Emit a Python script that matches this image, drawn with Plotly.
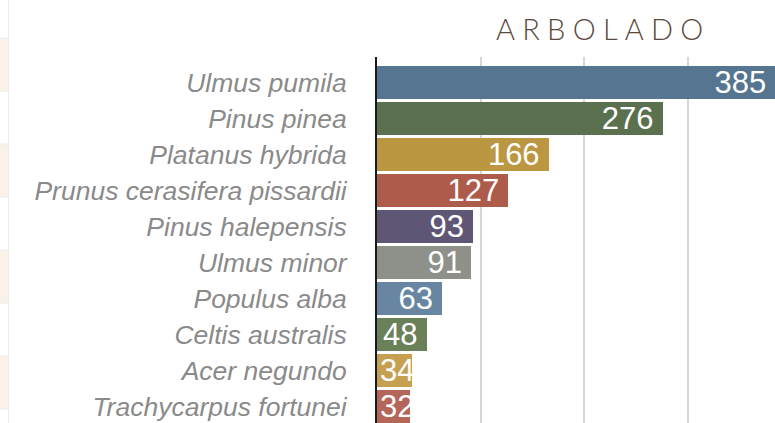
import plotly.graph_objects as go

species = ["Ulmus pumila", "Pinus pinea", "Platanus hybrida", "Prunus cerasifera pissardii",
           "Pinus halepensis", "Ulmus minor", "Populus alba", "Celtis australis",
           "Acer negundo", "Trachycarpus fortunei"]
counts = [385, 276, 166, 127, 93, 91, 63, 48, 34, 32]
colors = ["#557590", "#5b704e", "#bb9742", "#ad5b4a", "#5f5574",
          "#8d918a", "#6886a2", "#6a8059", "#c5a051", "#b5665a"]
title_text = "ARBOLADO"

W, H = 775, 423
L, T = 377, 57
plot_w = W - L
plot_h = H - T
X_MAX = 384.5
px_per_unit = plot_w / X_MAX
LABEL_MIN_PX = 46  # bars narrower than this get their label anchored at the start

wide = [i for i, c in enumerate(counts) if c * px_per_unit >= LABEL_MIN_PX]
narrow = [i for i, c in enumerate(counts) if c * px_per_unit < LABEL_MIN_PX]

value_font = dict(family="Liberation Sans, Arial, sans-serif", size=31, color="white")

fig = go.Figure()
for idx, anchor in [(wide, "end"), (narrow, "start")]:
    fig.add_trace(go.Bar(
        x=[counts[i] for i in idx], y=[species[i] for i in idx], orientation="h",
        marker=dict(color=[colors[i] for i in idx], line=dict(width=0)),
        texttemplate="%{x}\u2009" if anchor == "end" else "%{x}",
        textposition="inside",
        insidetextanchor=anchor,
        constraintext="none",
        textangle=0,
        textfont=value_font,
        hoverinfo="skip",
    ))

# decorative left-edge stripes (page background remnants)
def py(p):
    return (H - p) / plot_h

def px(p):
    return (p - L) / plot_w

shapes = []
for y0, y1 in [(38, 91), (144, 197), (250, 303), (356, 409)]:
    shapes.append(dict(type="rect", xref="paper", yref="paper",
                       x0=px(0), x1=px(8), y0=py(y1), y1=py(y0),
                       fillcolor="#faf2e8", line=dict(width=0), layer="below"))
for yl in [38, 91, 144, 197, 250, 303, 356, 409]:
    shapes.append(dict(type="line", xref="paper", yref="paper",
                       x0=px(0), x1=px(8), y0=py(yl), y1=py(yl),
                       line=dict(color="#ececec", width=1), layer="below"))
shapes.append(dict(type="line", xref="paper", yref="paper",
                   x0=px(8.5), x1=px(8.5), y0=py(H), y1=py(0),
                   line=dict(color="#ececec", width=1), layer="below"))

spaced = "\u2009\u2009".join(title_text)

fig.update_layout(
    width=W, height=H,
    margin=dict(l=L, r=0, t=T, b=0, pad=0),
    paper_bgcolor="white", plot_bgcolor="white",
    bargap=0.08,
    barmode="stack",
    showlegend=False,
    shapes=shapes,
    annotations=[dict(text=spaced, xref="paper", yref="paper",
                      x=px(599), y=py(29), xanchor="center", yanchor="middle",
                      showarrow=False,
                      font=dict(family="Lato, sans-serif", size=29, color="#5b4a3c", weight=300))],
    xaxis=dict(range=[0, X_MAX], showgrid=True, gridcolor="#d6d6d6", gridwidth=1.5,
               dtick=100, tick0=0, showticklabels=False, zeroline=False, showline=False,
               fixedrange=True),
    yaxis=dict(autorange=False, range=[9.46, -0.71], showgrid=False, zeroline=False,
               showline=True, linecolor="#1a1a1a", linewidth=2,
               ticks="", ticklabelstandoff=23,
               categoryorder="array", categoryarray=species,
               tickfont=dict(family="Liberation Sans, Arial, sans-serif", size=26.5,
                             color="#8a8a8a", style="italic"),
               fixedrange=True),
)

fig.write_html("out.html",
               config={"displayModeBar": False},
               post_script="document.body.style.margin='0';document.body.style.overflow='hidden';")
